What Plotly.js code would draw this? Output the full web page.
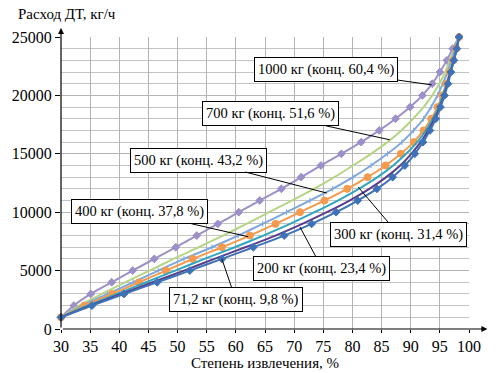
<!DOCTYPE html>
<html>
<head>
<meta charset="utf-8">
<script src="https://cdn.plot.ly/plotly-3.0.1.min.js"></script>
<style>html,body{margin:0;padding:0;background:#fff;}#chart{width:500px;height:373px;}</style>
</head>
<body>
<div id="chart"></div>
<script>
// Fuel consumption levels (kg/h), shared by all series
const consumption = [1000,2000,3000,4000,5000,6000,7000,8000,9000,10000,11000,12000,13000,14000,15000,16000,17000,18000,19000,20000,21000,22000,23000,24000,25000];

// Extraction degree (%) for each series at the consumption levels above
const ext1000 = [30,32.2,35.1,38.7,42.3,46.0,49.7,53.3,56.9,60.5,64.1,67.8,71.2,74.6,78.1,81.5,84.6,87.4,89.9,92.0,93.7,95.0,96.2,97.2,98.3];
const ext700  = [30,33.1,37.0,41.0,45.2,49.3,53.6,57.8,61.8,65.7,69.6,73.4,76.9,80.1,83.2,86.0,88.4,90.4,92.2,93.7,94.9,95.9,96.7,97.5,98.3];
const ext500  = [30,33.6,38.0,42.4,46.7,51.1,55.9,60.4,64.6,68.7,72.7,76.6,80.1,83.2,86.0,88.5,90.5,92.2,93.5,94.6,95.5,96.3,97.0,97.6,98.3];
const ext400  = [30,34.0,38.8,43.4,48.0,52.6,57.6,62.4,66.8,71.0,75.2,79.1,82.6,85.7,88.3,90.5,92.2,93.5,94.6,95.4,96.1,96.7,97.3,97.8,98.3];
const ext300  = [30,34.5,39.6,44.6,49.6,54.6,59.8,64.7,69.3,73.5,77.5,81.1,84.3,87.0,89.2,91.1,92.6,93.8,94.8,95.5,96.2,96.8,97.3,97.8,98.3];
const ext200  = [30,35.0,40.3,45.7,51.1,56.3,61.6,66.8,71.4,75.6,79.5,82.9,85.8,88.2,90.1,91.7,93.0,94.1,95.0,95.7,96.3,96.8,97.4,97.9,98.3];
const ext712  = [30,35.3,40.8,46.5,52.1,57.6,63.0,68.3,73.0,77.2,80.9,84.2,86.9,89.0,90.7,92.1,93.3,94.3,95.1,95.8,96.4,96.9,97.4,97.9,98.3];

const seriesNames = ['1000 кг','700 кг','500 кг','400 кг','300 кг','200 кг','71,2 кг'];
const labelTexts = ['1000 кг (конц. 60,4 %)','700 кг (конц. 51,6 %)','500 кг (конц. 43,2 %)','400 кг (конц. 37,8 %)','300 кг (конц. 31,4 %)','200 кг (конц. 23,4 %)','71,2 кг (конц. 9,8 %)'];

const xTickVals = [30,35,40,45,50,55,60,65,70,75,80,85,90,95,100];
const yTickVals = [0,5000,10000,15000,20000,25000];

const FONT = "'Liberation Serif', 'Times New Roman', Times, serif";

const seriesX = [ext1000, ext700, ext500, ext400, ext300, ext200, ext712];
const styles = [
  {color:'#9d8fc8', symbol:'diamond', size:6, show:true},
  {color:'#b5d585', symbol:'circle', size:0, show:false},
  {color:'#7ea7dc', symbol:'line-ns', size:4, show:true},
  {color:'#f59a4c', symbol:'circle', size:7, show:true},
  {color:'#2fa6bd', symbol:'circle', size:0, show:false},
  {color:'#5a3d8a', symbol:'circle', size:0, show:false},
  {color:'#3d72b8', symbol:'diamond', size:6, show:true}
];

const traces = seriesX.map((xs, i) => ({
  x: xs, y: consumption, name: seriesNames[i], type:'scatter',
  mode: styles[i].show ? 'lines+markers' : 'lines',
  line: {color: styles[i].color, width: 2, shape:'spline', smoothing:0.6},
  marker: {color: styles[i].color, symbol: styles[i].symbol, size: styles[i].size,
           line:{color: styles[i].color, width: 1}},
  cliponaxis: false
}));

// arrow tips (data coords on each curve) and label offsets (pixels)
const tipX = [93.6, 86.4, 75.6, 62.1, 81.0, 71.0, 57.6];
const tipY = [20900,16200,11640,7900,12150,8730,6000];
const offX = [-106,-119,-128,-109,40,22,14];
const offY = [-15,-26,-33,-25,47,41,41];

const annotations = labelTexts.map((t, i) => ({
  x: tipX[i], y: tipY[i], xref:'x', yref:'y', text: t,
  showarrow: true, arrowhead: 0, arrowwidth: 1, arrowcolor:'#000',
  ax: offX[i], ay: offY[i],
  bgcolor:'#fff', bordercolor:'#000', borderwidth:1, borderpad:3,
  font:{family: FONT, size:14.5, color:'#000'}
}));

// axis arrows
annotations.push({xref:'paper', yref:'paper', x:1.045, y:0, ax:-426, ay:0, text:'', showarrow:true,
  arrowhead:2, arrowsize:1, arrowwidth:1.2, arrowcolor:'#000'});
annotations.push({xref:'paper', yref:'paper', x:0, y:1.031, ax:0, ay:301, text:'', showarrow:true,
  arrowhead:2, arrowsize:1, arrowwidth:1.2, arrowcolor:'#000'});
// y axis title
annotations.push({xref:'paper', yref:'paper', x:-0.11, y:1.045, xanchor:'left', yanchor:'bottom',
  text:'Расход ДТ, кг/ч', showarrow:false,
  font:{family: FONT, size:15, color:'#000'}});

const layout = {
  width:500, height:373,
  margin:{l:61, r:31, t:37, b:44},
  paper_bgcolor:'#fff', plot_bgcolor:'#fff',
  showlegend:false,
  font:{family: FONT, size:16, color:'#000'},
  xaxis:{range:[30,100], tickvals:xTickVals, ticktext:xTickVals.map(String),
    showgrid:true, gridcolor:'#b4b4b4', gridwidth:1, zeroline:false, showline:false,
    ticks:'outside', ticklen:3, tickcolor:'#000',
    tickfont:{family: FONT, size:16},
    title:{text:'Степень извлечения, %', font:{family: FONT, size:15}, standoff:0}},
  yaxis:{range:[0,25000], tickvals:yTickVals, ticktext:yTickVals.map(String),
    showgrid:true, gridcolor:'#b4b4b4', gridwidth:1, zeroline:false, showline:false,
    ticks:'outside', ticklen:5, tickcolor:'#000',
    tickfont:{family: FONT, size:16},
    minor:{dtick:1000, showgrid:true, gridcolor:'#c4c4c4', gridwidth:1, ticks:''}},
  annotations: annotations
};

Plotly.newPlot('chart', traces, layout, {staticPlot:true});
</script>
</body>
</html>
